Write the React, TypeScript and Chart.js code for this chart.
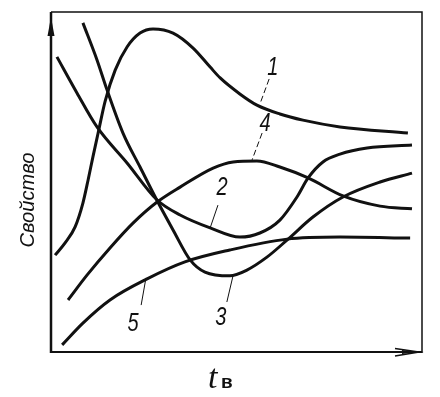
import React, { useEffect, useRef } from "react";
import { Chart, registerables } from "chart.js";

Chart.register(...registerables);

// Data coordinates: x 0..100 (time t_в), y 0..100 (property), arbitrary units
const curve1X = [1.1, 3.8, 6.5, 8.6, 10.0, 11.3, 12.7, 14.6, 17.3, 20.5, 24.0, 27.5, 32.9, 38.3, 42.9, 45.6, 50.9, 55.5, 61.7, 67.9, 77.9, 96.2];
const curve1Y = [28.5, 32.1, 36.8, 43.8, 50.6, 57.4, 64.4, 73.8, 82.9, 89.7, 93.8, 95.0, 93.8, 89.4, 83.8, 80.6, 75.9, 72.6, 70.0, 68.2, 66.2, 64.4];

const curve2X = [1.6, 7.0, 12.4, 20.5, 28.6, 34.8, 42.9, 50.9, 56.3, 61.7, 66.3, 69.3, 73.3, 77.9, 85.2, 97.3];
const curve2Y = [86.8, 76.2, 66.2, 55.6, 44.7, 40.3, 36.5, 33.8, 35.0, 38.8, 45.6, 51.2, 55.9, 58.2, 60.0, 60.9];

const curve3X = [8.6, 12.4, 15.1, 19.4, 24.0, 28.8, 32.9, 37.5, 41.5, 48.2, 52.8, 58.2, 63.6, 70.6, 78.7, 88.7, 97.3];
const curve3Y = [96.8, 85.9, 77.1, 64.4, 54.4, 44.1, 35.9, 27.1, 23.5, 22.4, 24.1, 27.9, 32.9, 39.7, 45.6, 50.0, 52.6];

const curve4X = [4.6, 9.7, 15.9, 22.1, 28.6, 34.8, 43.7, 49.1, 55.5, 61.7, 69.3, 78.7, 88.7, 97.3];
const curve4Y = [15.3, 22.6, 30.6, 37.9, 44.1, 48.5, 54.1, 55.9, 56.2, 54.4, 51.2, 45.9, 42.9, 42.1];

const curve5X = [3.0, 8.6, 15.9, 25.9, 36.1, 48.2, 63.6, 77.9, 96.8];
const curve5Y = [2.1, 8.5, 15.3, 21.5, 26.5, 30.0, 33.2, 33.8, 33.5];

// Curve number labels and their leader lines
const labelText = ["1", "4", "2", "3", "5"];
const labelX = [59.8, 57.7, 46.1, 45.8, 22.1];
const labelY = [83.8, 67.4, 48.5, 10.3, 8.5];
const leaderX1 = [58.8, 56.9, 45.0, 47.4, 24.3];
const leaderY1 = [80.3, 64.4, 43.2, 14.7, 13.8];
const leaderX2 = [56.3, 54.2, 42.9, 49.1, 25.6];
const leaderY2 = [72.9, 56.5, 36.5, 22.6, 21.8];
const leaderDashed = [true, true, false, false, false];

const yTitle = "Свойство";
const xTitleMain = "t";
const xTitleSub = "в";

const INK = "#111";

function pts(xs: number[], ys: number[]) {
  return xs.map((x, i) => ({ x, y: ys[i] }));
}

const decorPlugin = {
  id: "decor",
  afterDraw(chart: any) {
    const ctx: CanvasRenderingContext2D = chart.ctx;
    const { left, right, top, bottom } = chart.chartArea;
    const sx = chart.scales.x;
    const sy = chart.scales.y;
    ctx.save();
    ctx.strokeStyle = INK;
    ctx.fillStyle = INK;
    ctx.lineCap = "butt";

    // frame
    ctx.lineWidth = 1.5;
    ctx.beginPath();
    ctx.moveTo(left, top);
    ctx.lineTo(right, top);
    ctx.lineTo(right, bottom + 1);
    ctx.stroke();
    // axes
    ctx.lineWidth = 2.5;
    ctx.beginPath();
    ctx.moveTo(left, bottom + 1);
    ctx.lineTo(left, top);
    ctx.stroke();
    ctx.lineWidth = 2;
    ctx.beginPath();
    ctx.moveTo(left, bottom);
    ctx.lineTo(right, bottom);
    ctx.stroke();
    // y arrow
    ctx.beginPath();
    ctx.moveTo(left, top + 5);
    ctx.lineTo(left - 3.5, top + 24);
    ctx.lineTo(left + 3.5, top + 24);
    ctx.closePath();
    ctx.fill();
    // x arrow
    ctx.lineWidth = 1.5;
    ctx.beginPath();
    ctx.moveTo(right - 27, bottom - 3.5);
    ctx.lineTo(right - 3, bottom);
    ctx.lineTo(right - 27, bottom + 4);
    ctx.stroke();
    ctx.beginPath();
    ctx.moveTo(right - 3, bottom);
    ctx.lineTo(right - 20, bottom - 2);
    ctx.lineTo(right - 20, bottom + 2);
    ctx.closePath();
    ctx.fill();

    // leader lines
    ctx.lineWidth = 1;
    for (let i = 0; i < labelText.length; i++) {
      ctx.setLineDash(leaderDashed[i] ? [6, 3] : []);
      ctx.beginPath();
      ctx.moveTo(sx.getPixelForValue(leaderX1[i]), sy.getPixelForValue(leaderY1[i]));
      ctx.lineTo(sx.getPixelForValue(leaderX2[i]), sy.getPixelForValue(leaderY2[i]));
      ctx.stroke();
    }
    ctx.setLineDash([]);

    // curve labels
    ctx.textAlign = "center";
    ctx.textBaseline = "middle";
    for (let i = 0; i < labelText.length; i++) {
      const px = sx.getPixelForValue(labelX[i]);
      const py = sy.getPixelForValue(labelY[i]);
      ctx.save();
      ctx.translate(px, py);
      ctx.scale(0.8, 1);
      ctx.font = "italic 25px 'Liberation Sans', Arial, sans-serif";
      ctx.fillText(labelText[i], 0, 1);
      ctx.restore();
    }

    // y title
    ctx.save();
    ctx.translate(28, (top + bottom) / 2 + 18);
    ctx.rotate(-Math.PI / 2);
    ctx.font = "italic 21px 'Liberation Sans', Arial, sans-serif";
    const w = ctx.measureText(yTitle).width;
    ctx.scale(95 / w, 1);
    ctx.fillText(yTitle, 0, 0);
    ctx.restore();

    // x title
    ctx.save();
    ctx.textAlign = "left";
    ctx.textBaseline = "alphabetic";
    ctx.font = "italic 34px 'Liberation Serif', serif";
    ctx.fillText(xTitleMain, 208, 388);
    ctx.font = "bold 19px 'Liberation Sans', Arial, sans-serif";
    ctx.fillText(xTitleSub, 221, 388);
    ctx.restore();

    ctx.restore();
  },
};

export default function App() {
  const ref = useRef<HTMLCanvasElement | null>(null);
  useEffect(() => {
    document.body.style.margin = "0";
    const canvas = ref.current!;
    const mk = (xs: number[], ys: number[]) => ({
      data: pts(xs, ys),
      showLine: true,
      borderColor: INK,
      borderWidth: 3,
      pointRadius: 0,
      cubicInterpolationMode: "monotone" as const,
      fill: false,
    });
    const chart = new Chart(canvas, {
      type: "scatter",
      data: {
        datasets: [
          mk(curve1X, curve1Y),
          mk(curve2X, curve2Y),
          mk(curve3X, curve3Y),
          mk(curve4X, curve4Y),
          mk(curve5X, curve5Y),
        ],
      },
      options: {
        animation: false,
        responsive: false,
        devicePixelRatio: 1,
        layout: { padding: { left: 51, right: 18, top: 12, bottom: 45 } },
        plugins: { legend: { display: false }, tooltip: { enabled: false } },
        scales: {
          x: { type: "linear", min: 0, max: 100, display: false },
          y: { type: "linear", min: 0, max: 100, display: false },
        },
      },
      plugins: [decorPlugin],
    });
    return () => chart.destroy();
  }, []);
  return (
    <div style={{ width: 440, height: 397, background: "#fff" }}>
      <canvas ref={ref} width={440} height={397} style={{ display: "block" }} />
    </div>
  );
}
